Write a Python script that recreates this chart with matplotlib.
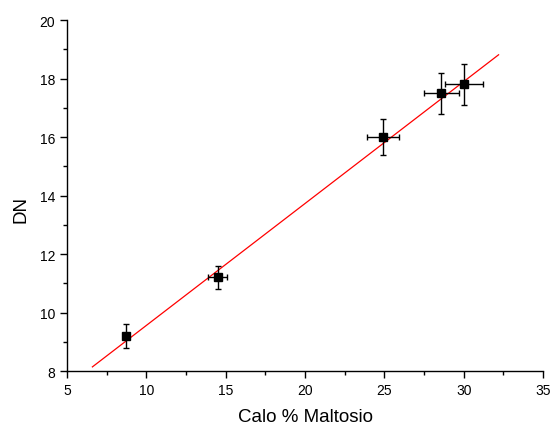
import matplotlib
matplotlib.use("Agg")
import matplotlib.pyplot as plt
import numpy as np
from matplotlib.ticker import MultipleLocator

plt.rcParams['font.family'] = ['Liberation Sans', 'DejaVu Sans']

# Measurements
maltosio = [8.7, 14.5, 24.9, 28.6, 30.0]
dn = [9.2, 11.2, 16.0, 17.5, 17.8]
maltosio_err = [0.2, 0.6, 1.0, 1.1, 1.2]
dn_err = [0.4, 0.4, 0.6, 0.7, 0.7]

# Linear fit
fit_slope = 0.4168
fit_intercept = 5.39
fit_x_range = [6.6, 32.2]

fig = plt.figure(figsize=(5.52, 4.27), dpi=100)
ax = fig.add_axes([0.1214, 0.1288, 0.8623, 0.822])

fx = np.array(fit_x_range)
ax.plot(fx, fit_slope * fx + fit_intercept, color='red', lw=0.9, zorder=3)

ax.errorbar(maltosio, dn, xerr=maltosio_err, yerr=dn_err, fmt='s',
            color='black', ms=5.8, elinewidth=1.0, capsize=2.5,
            capthick=1.0, ecolor='black', zorder=4)

ax.set_xlim(5, 35)
ax.set_ylim(8, 20)
ax.xaxis.set_major_locator(MultipleLocator(5))
ax.xaxis.set_minor_locator(MultipleLocator(2.5))
ax.yaxis.set_major_locator(MultipleLocator(2))
ax.yaxis.set_minor_locator(MultipleLocator(1))

for s in ('top', 'right'):
    ax.spines[s].set_visible(False)
for s in ('left', 'bottom'):
    ax.spines[s].set_linewidth(1.0)

ax.tick_params(which='major', direction='out', length=5, width=1.0, labelsize=10)
ax.tick_params(which='minor', direction='out', length=3, width=1.0)

ax.set_xlabel('Calo % Maltosio', fontsize=13.5, labelpad=8)
ax.set_ylabel('DN', fontsize=13.5)
ax.yaxis.set_label_coords(-0.078, 0.462)

fig.savefig('out.png', dpi=100)
